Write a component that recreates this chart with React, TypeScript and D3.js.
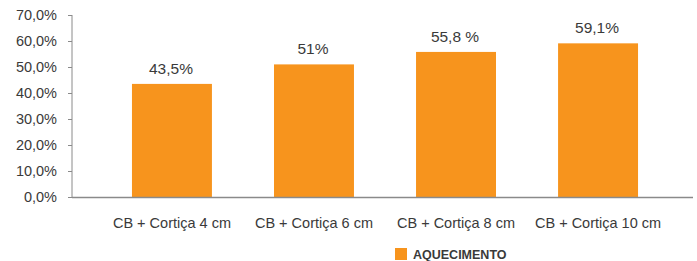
import React, { useEffect, useRef } from 'react';
import * as d3 from 'd3';

const categories = ['CB + Cortiça 4 cm', 'CB + Cortiça 6 cm', 'CB + Cortiça 8 cm', 'CB + Cortiça 10 cm'];
const values = [43.5, 51, 55.8, 59.1];
const valueLabels = ['43,5%', '51%', '55,8 %', '59,1%'];
const yTicks = [0, 10, 20, 30, 40, 50, 60, 70];
const seriesName = 'AQUECIMENTO';

const App = () => {
  const svgRef = useRef<SVGSVGElement>(null);

  useEffect(() => {
    const svg = d3.select(svgRef.current);
    svg.selectAll('*').remove();

    const font = 'Liberation Sans, Arial, sans-serif';
    const orange = '#f7941d';
    const textColor = '#3a3a3a';
    const axisColor = '#8a8a8a';

    const axisX = 72;
    const axisRight = 693;

    const y = d3.scaleLinear().domain([0, 70]).range([197, 15]);
    const x = d3.scaleBand().domain(categories).range([101, 669]).paddingInner(0.437).paddingOuter(0.218);

    // y axis
    svg.append('line')
      .attr('x1', axisX).attr('x2', axisX)
      .attr('y1', y(70)).attr('y2', y(0))
      .attr('stroke', axisColor).attr('stroke-width', 1);

    const ticks = svg.append('g');
    ticks.selectAll('line')
      .data(yTicks)
      .enter().append('line')
      .attr('x1', axisX - 4).attr('x2', axisX)
      .attr('y1', d => y(d) + 0.5).attr('y2', d => y(d) + 0.5)
      .attr('stroke', axisColor);
    ticks.selectAll('text')
      .data(yTicks)
      .enter().append('text')
      .attr('x', 57)
      .attr('y', d => y(d) + 5)
      .attr('text-anchor', 'end')
      .attr('font-family', font)
      .attr('font-size', 14.5)
      .attr('fill', textColor)
      .text(d => `${d3.format('.1f')(d).replace('.', ',')}%`);

    // bars
    svg.selectAll('.bar')
      .data(values)
      .enter().append('rect')
      .attr('class', 'bar')
      .attr('x', (d, i) => x(categories[i]) as number)
      .attr('width', x.bandwidth())
      .attr('y', d => y(d))
      .attr('height', d => y(0) - y(d))
      .attr('fill', orange);

    svg.selectAll('.val')
      .data(values)
      .enter().append('text')
      .attr('class', 'val')
      .attr('x', (d, i) => (x(categories[i]) as number) + x.bandwidth() / 2 - 1)
      .attr('y', d => y(d) - 10)
      .attr('text-anchor', 'middle')
      .attr('font-family', font)
      .attr('font-size', 15.5)
      .attr('fill', textColor)
      .text((d, i) => valueLabels[i]);

    // baseline
    svg.append('line')
      .attr('x1', axisX).attr('x2', axisRight)
      .attr('y1', y(0) + 0.5).attr('y2', y(0) + 0.5)
      .attr('stroke', axisColor).attr('stroke-width', 1.5);

    svg.selectAll('.cat')
      .data(categories)
      .enter().append('text')
      .attr('class', 'cat')
      .attr('x', d => (x(d) as number) + x.bandwidth() / 2)
      .attr('y', 228)
      .attr('text-anchor', 'middle')
      .attr('font-family', font)
      .attr('font-size', 14.5)
      .attr('fill', textColor)
      .text(d => d);

    // legend
    svg.append('rect')
      .attr('x', 395).attr('y', 248)
      .attr('width', 12).attr('height', 12)
      .attr('fill', orange);
    svg.append('text')
      .attr('x', 413).attr('y', 259)
      .attr('font-family', font)
      .attr('font-size', 12.5)
      .attr('font-weight', 'bold')
      .attr('fill', textColor)
      .text(seriesName);
  }, []);

  return (
    <svg ref={svgRef} width={697} height={261}
      style={{ position: 'absolute', left: 0, top: 0, background: '#fff' }} />
  );
};

export default App;
